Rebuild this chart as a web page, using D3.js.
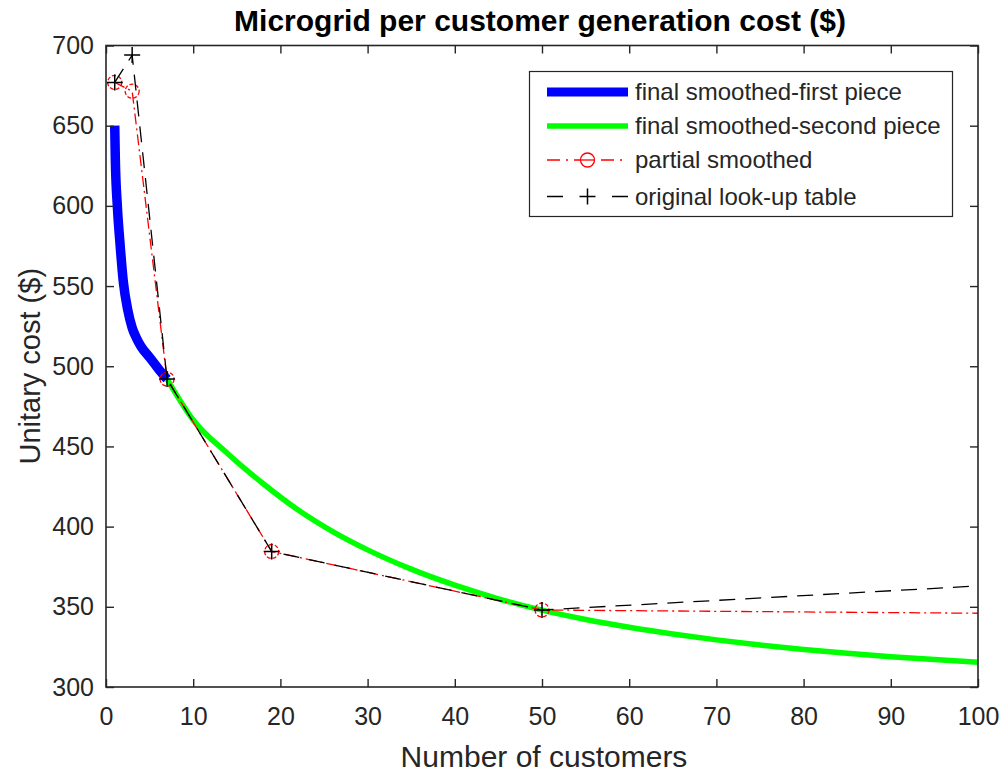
<!DOCTYPE html>
<html>
<head>
<meta charset="utf-8">
<script src="https://cdn.jsdelivr.net/npm/d3@7"></script>
<style>
  html, body { margin: 0; padding: 0; background: #fff; }
  svg { display: block; font-family: "Liberation Sans", Arial, sans-serif; }
</style>
</head>
<body>
<svg id="chart" width="1004" height="772"></svg>
<script>
// ---- data ----
const titleText = "Microgrid per customer generation cost ($)";
const xLabel = "Number of customers";
const yLabel = "Unitary cost ($)";
const xTicks = [0, 10, 20, 30, 40, 50, 60, 70, 80, 90, 100];
const yTicks = [300, 350, 400, 450, 500, 550, 600, 650, 700];

const firstPieceX = [1, 1.07, 1.3, 1.6, 2, 2.5, 3, 3.5, 4, 5, 6, 7];
const firstPieceY = [650, 629, 600, 577, 552, 535, 524, 517.5, 512.5, 505.5, 498.5, 492];

const secondPieceX = [7, 10, 14, 18, 22, 26, 30, 35, 40, 45, 50, 55, 60, 65, 70, 75, 80, 85, 90, 95, 100];
const secondPieceY = [492, 466.5, 445.3, 426.9, 410.5, 396.9, 385.5, 373.5, 363.5, 355, 347.9, 342.1, 337.3, 333.1, 329.4, 326.2, 323.4, 321, 318.9, 317.1, 315.5];

const partialX = [1, 3, 7, 19, 50, 100];
const partialY = [677, 671.5, 492, 384.5, 348, 346];
const partialMarkersX = [1, 3, 7, 19, 50];

const originalX = [1, 3, 7, 19, 50, 100];
const originalY = [677, 694, 492, 384.5, 348, 363];
const originalMarkersX = [1, 3, 7, 19, 50];

const legendLabels = ["final smoothed-first piece", "final smoothed-second piece", "partial smoothed", "original look-up table"];

// ---- layout ----
const L = 106, R = 978, T = 45.5, B = 687;
const svg = d3.select("#chart");
const x = d3.scaleLinear().domain([0, 100]).range([L, R]);
const y = d3.scaleLinear().domain([300, 700]).range([B, T]);
const axisColor = "#262626";

const zip = (xs, ys) => xs.map((v, i) => [v, ys[i]]);

svg.append("defs").append("clipPath").attr("id", "clip")
  .append("rect").attr("x", L).attr("y", T).attr("width", R - L).attr("height", B - T);

const plot = svg.append("g").attr("clip-path", "url(#clip)");

const smooth = d3.line().x(d => x(d[0])).y(d => y(d[1])).curve(d3.curveMonotoneX);
const straight = d3.line().x(d => x(d[0])).y(d => y(d[1]));

// blue first piece
plot.append("path").attr("d", smooth(zip(firstPieceX, firstPieceY)))
  .attr("fill", "none").attr("stroke", "#0000ff").attr("stroke-width", 9.5);

// green second piece
plot.append("path").attr("d", smooth(zip(secondPieceX, secondPieceY)))
  .attr("fill", "none").attr("stroke", "#00ff00").attr("stroke-width", 5.5);

// red partial smoothed
const partialData = zip(partialX, partialY);
plot.append("path").attr("d", straight(partialData))
  .attr("fill", "none").attr("stroke", "#ff0000").attr("stroke-width", 1.3)
  .attr("stroke-dasharray", "11,4,2,4");
plot.selectAll(".pm").data(partialData.filter(d => partialMarkersX.includes(d[0])))
  .enter().append("circle")
  .attr("cx", d => x(d[0])).attr("cy", d => y(d[1])).attr("r", 7)
  .attr("fill", "none").attr("stroke", "#ff0000").attr("stroke-width", 1.3)
  .attr("stroke-dasharray", "4,2");

// black original
const origData = zip(originalX, originalY);
plot.append("path").attr("d", straight(origData))
  .attr("fill", "none").attr("stroke", "#000").attr("stroke-width", 1.3)
  .attr("stroke-dasharray", "16,10");
plot.selectAll(".om").data(origData.filter(d => originalMarkersX.includes(d[0])))
  .enter().append("path")
  .attr("d", d => { const cx = x(d[0]), cy = y(d[1]), s = 8;
    return `M${cx - s},${cy}H${cx + s}M${cx},${cy - s}V${cy + s}`; })
  .attr("stroke", "#000").attr("stroke-width", 1.5).attr("fill", "none");

// axes box
svg.append("rect").attr("x", L).attr("y", T).attr("width", R - L).attr("height", B - T)
  .attr("fill", "none").attr("stroke", axisColor).attr("stroke-width", 1.6);

const tickLen = 8;
const gxb = svg.append("g").attr("transform", `translate(0,${B})`)
  .call(d3.axisBottom(x).tickValues(xTicks).tickSizeInner(-tickLen).tickSizeOuter(0));
const gxt = svg.append("g").attr("transform", `translate(0,${T})`)
  .call(d3.axisTop(x).tickValues(xTicks).tickSizeInner(-tickLen).tickSizeOuter(0).tickFormat(""));
const gyl = svg.append("g").attr("transform", `translate(${L},0)`)
  .call(d3.axisLeft(y).tickValues(yTicks).tickSizeInner(-tickLen).tickSizeOuter(0));
const gyr = svg.append("g").attr("transform", `translate(${R},0)`)
  .call(d3.axisRight(y).tickValues(yTicks).tickSizeInner(-tickLen).tickSizeOuter(0).tickFormat(""));

[gxb, gxt, gyl, gyr].forEach(g => {
  g.select(".domain").remove();
  g.selectAll(".tick line").attr("stroke", axisColor).attr("stroke-width", 1.4);
  g.selectAll("text").attr("fill", axisColor).style("font-size", "25px")
    .style("font-family", "'Liberation Sans', Arial, sans-serif");
});
gxb.selectAll("text").attr("dy", "0.71em").attr("y", 20);
gyl.selectAll("text").attr("x", -12);

// title & labels
svg.append("text").attr("x", (L + R) / 2 - 2).attr("y", 31).attr("text-anchor", "middle")
  .style("font-size", "30px").style("font-weight", "bold").attr("fill", "#000")
  .text(titleText);
svg.append("text").attr("x", (L + R) / 2 + 2).attr("y", 767).attr("text-anchor", "middle")
  .style("font-size", "30px").attr("fill", axisColor).text(xLabel);
svg.append("text").attr("transform", `translate(40,${(T + B) / 2}) rotate(-90)`)
  .attr("text-anchor", "middle").style("font-size", "29px").attr("fill", axisColor).text(yLabel);

// legend
const lg = svg.append("g");
lg.append("rect").attr("x", 529.5).attr("y", 71.5).attr("width", 423).attr("height", 145)
  .attr("fill", "#fff").attr("stroke", axisColor).attr("stroke-width", 1.2);
const rowsY = [92, 126, 160, 196.5];
const lx0 = 547, lx1 = 628, tx = 635;
const mid = (lx0 + lx1) / 2;
lg.append("line").attr("x1", lx0).attr("x2", lx1).attr("y1", rowsY[0]).attr("y2", rowsY[0])
  .attr("stroke", "#0000ff").attr("stroke-width", 9);
lg.append("line").attr("x1", lx0).attr("x2", lx1).attr("y1", rowsY[1]).attr("y2", rowsY[1])
  .attr("stroke", "#00ff00").attr("stroke-width", 5.5);
lg.append("line").attr("x1", lx0).attr("x2", lx1).attr("y1", rowsY[2]).attr("y2", rowsY[2])
  .attr("stroke", "#ff0000").attr("stroke-width", 1.3).attr("stroke-dasharray", "13,6,2,6");
lg.append("circle").attr("cx", mid).attr("cy", rowsY[2]).attr("r", 7)
  .attr("fill", "#fff").attr("stroke", "#ff0000").attr("stroke-width", 1.3);
lg.append("line").attr("x1", mid - 7).attr("x2", mid + 7)
  .attr("y1", rowsY[2]).attr("y2", rowsY[2]).attr("stroke", "#ff0000").attr("stroke-width", 1.3);
lg.append("line").attr("x1", lx0).attr("x2", lx1).attr("y1", rowsY[3]).attr("y2", rowsY[3])
  .attr("stroke", "#000").attr("stroke-width", 1.3).attr("stroke-dasharray", "16,49,16");
lg.append("path").attr("d", `M${mid - 8},${rowsY[3]}H${mid + 8}M${mid},${rowsY[3] - 8}V${rowsY[3] + 8}`)
  .attr("stroke", "#000").attr("stroke-width", 1.5);
lg.selectAll(".lt").data(legendLabels).enter().append("text")
  .attr("x", tx).attr("y", (d, i) => rowsY[i]).attr("dy", "0.35em")
  .style("font-size", "24px").attr("fill", axisColor).text(d => d);
</script>
</body>
</html>
